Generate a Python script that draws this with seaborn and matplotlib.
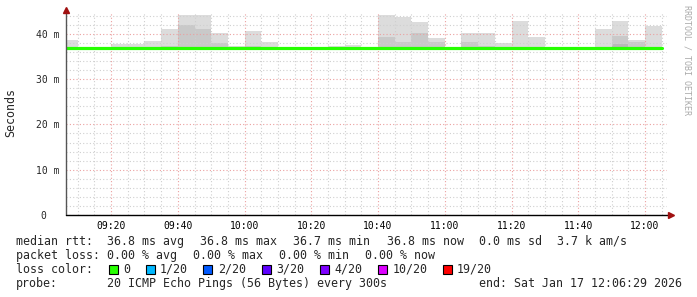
import pandas as pd
import seaborn as sns
import matplotlib.pyplot as plt
import matplotlib.dates as mdates
from matplotlib.patches import Rectangle

# 5-minute slots (start times), values in ms
slot_start = pd.date_range("2026-01-17 09:05", "2026-01-17 12:00", freq="5min")
median_ms = [36.8] * 36
smoke_min = [36.7] * 36
# top of the light smoke (max ping) per slot
smoke_max = [38.7, 36.9, 36.9, 37.7, 37.7, 38.5, 41.1, 44.2, 44.2, 40.2, 37.4, 40.7,
             38.2, 37.1, 36.9, 36.9, 37.4, 37.5, 36.9, 44.2, 43.8, 42.7, 39.1, 36.9,
             40.1, 40.1, 38.0, 42.9, 39.4, 36.9, 36.9, 36.9, 41.1, 42.9, 38.7, 41.8]
# darker inner smoke band
smoke_mid = [36.8, 36.8, 36.8, 37.2, 36.9, 36.9, 37.4, 42.0, 41.1, 37.9, 36.8, 37.3,
             36.8, 36.8, 36.8, 36.8, 36.8, 36.8, 36.8, 39.4, 38.2, 40.2, 38.2, 36.8,
             38.1, 37.4, 36.8, 36.8, 36.8, 36.8, 36.8, 36.8, 36.8, 39.6, 38.1, 36.8]
smoke_dark = [36.8] * 33 + [37.7, 36.8, 36.8]

t_start = pd.Timestamp("2026-01-17 09:06:29")
t_end = pd.Timestamp("2026-01-17 12:06:29")

loss_labels = ["0", "1/20", "2/20", "3/20", "4/20", "10/20", "19/20"]
loss_colors = ["#26ff00", "#00b8ff", "#0059ff", "#5e00ff", "#7e00ff", "#dd00ff", "#ff0000"]

# extend one step so the last slot is drawn to its end
times = list(slot_start) + [slot_start[-1] + pd.Timedelta("5min")]
ext = lambda v: list(v) + [v[-1]]
df = pd.DataFrame({"time": times, "median": ext(median_ms)})

sns.set_style("white")
plt.rcParams['font.family'] = ['DejaVu Sans Mono', 'DejaVu Sans']

W, H = 697, 297
fig = plt.figure(figsize=(W / 100, H / 100), dpi=100)
ax = fig.add_axes([66 / W, 82 / H, 600.6 / W, 202 / H])

# smoke
ax.fill_between(times, ext(smoke_min), ext(smoke_max), step="post", color="#dcdcdc", lw=0, zorder=1)
ax.fill_between(times, ext(smoke_min), ext(smoke_mid), step="post", color="#c9c9c9", lw=0, zorder=1.1)
ax.fill_between(times, ext(smoke_min), ext(smoke_dark), step="post", color="#b8b8b8", lw=0, zorder=1.2)

# median line
sns.lineplot(data=df, x="time", y="median", drawstyle="steps-post", color="#26ff00",
             linewidth=2.3, ax=ax, zorder=4)

ax.set_xlim(t_start, t_end)
ax.set_ylim(0, 44.6)
ax.xaxis.set_major_locator(mdates.MinuteLocator(byminute=[0, 20, 40]))
ax.xaxis.set_minor_locator(mdates.MinuteLocator(byminute=range(0, 60, 5)))
ax.xaxis.set_major_formatter(mdates.DateFormatter("%H:%M"))
ax.set_yticks([0, 10, 20, 30, 40])
ax.set_yticklabels(["0  ", "10 m", "20 m", "30 m", "40 m"])
ax.set_yticks(range(0, 45, 2), minor=True)

ax.set_axisbelow(False)
ax.grid(which="minor", color="#cfcfcf", linestyle=(0, (1, 2)), linewidth=0.8)
ax.grid(which="major", color="#eba0a0", linestyle=(0, (1, 2)), linewidth=0.8)

ax.tick_params(axis="x", which="both", length=0, pad=4.5, labelsize=7, colors="#000000")
ax.tick_params(axis="y", which="major", length=3, direction="inout", pad=3.5, labelsize=7,
               color="#555555")
ax.tick_params(axis="y", which="minor", length=2, direction="inout", color="#777777")
ax.set_xlabel("")
ax.set_ylabel("")

for s in ax.spines.values():
    s.set_visible(False)
ax.plot([0, 0], [0, 1.005], transform=ax.transAxes, color="#555555", lw=1, clip_on=False, zorder=5)
ax.plot([0, 1.005], [0, 0], transform=ax.transAxes, color="#000000", lw=1, clip_on=False, zorder=5)
ax.plot(0, 1.014, marker="^", ms=4, color="#a01010", transform=ax.transAxes, clip_on=False, zorder=6)
ax.plot(1.008, 0, marker=">", ms=4, color="#a01010", transform=ax.transAxes, clip_on=False, zorder=6)

fig.text(11 / W, 1 - 113 / H, "Seconds", rotation=90, ha="center", va="center", fontsize=8.4)
fig.text(687 / W, 1 - 60 / H, "RRDTOOL / TOBI OETIKER", rotation=270, ha="center", va="center",
         fontsize=6, color="#aaaaaa")

fs = 8.4
def txt(x, y, s):
    fig.text(x / W, 1 - y / H, s, ha="left", va="baseline", fontsize=fs)

row1 = [(16, "median rtt:"), (107, "36.8 ms avg"), (200, "36.8 ms max"), (293, "36.7 ms min"),
        (387, "36.8 ms now"), (479, "0.0 ms sd"), (557, "3.7 k am/s")]
row2 = [(16, "packet loss:"), (107, "0.00 % avg"), (193, "0.00 % max"), (279, "0.00 % min"),
        (365, "0.00 % now")]
for x, s in row1:
    txt(x, 245, s)
for x, s in row2:
    txt(x, 259, s)

txt(16, 273, "loss color:")
sq_x = [108.7, 145.7, 203.3, 261.7, 319.5, 378.3, 443.3]
lab_x = [123.7, 160, 217.7, 276.3, 334.3, 392.3, 457]
for sx, lx, c, lab in zip(sq_x, lab_x, loss_colors, loss_labels):
    fig.patches.append(Rectangle((sx / W, 1 - 274 / H), 9 / W, 9 / H, transform=fig.transFigure,
                                 facecolor=c, edgecolor="black", lw=0.8))
    txt(lx, 273, lab)

txt(16, 286.7, "probe:")
txt(107, 286.7, "20 ICMP Echo Pings (56 Bytes) every 300s")
txt(479, 286.7, "end: Sat Jan 17 12:06:29 2026")

fig.savefig("out.png", dpi=100, facecolor="white")
